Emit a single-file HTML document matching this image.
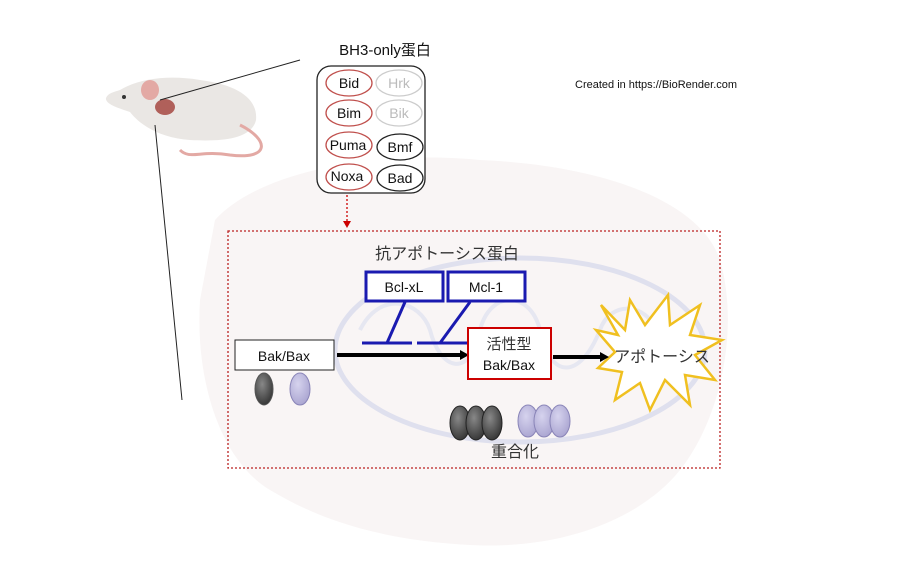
<!DOCTYPE html>
<html><head><meta charset="utf-8"><style>
body{margin:0;background:#fff}
svg{display:block;font-family:"Liberation Sans","Noto Sans CJK JP",sans-serif}
</style></head><body>
<svg width="900" height="577" viewBox="0 0 900 577">
<defs>
<radialGradient id="dk" cx="40%" cy="35%" r="70%"><stop offset="0" stop-color="#888"/><stop offset="1" stop-color="#333"/></radialGradient>
<radialGradient id="lv" cx="40%" cy="35%" r="70%"><stop offset="0" stop-color="#d6d3ee"/><stop offset="1" stop-color="#a9a4d0"/></radialGradient>
</defs>
<path d="M215,220 C260,170 380,150 480,160 C600,165 700,200 720,260 C740,330 720,420 680,470 C640,520 560,550 470,545 C380,540 320,520 270,490 C220,460 195,380 200,300 Z" fill="#f9f5f5"/>
<ellipse cx="520" cy="350" rx="185" ry="92" fill="none" stroke="#dfe0ee" stroke-width="5"/>
<path d="M360,330 C380,290 420,300 430,330 C440,370 470,380 480,330 C490,290 530,290 540,330 C550,380 580,380 600,330 C610,300 650,300 660,340" fill="none" stroke="#e6e7f1" stroke-width="4"/>
<!-- mouse -->
<path d="M120,90 C140,78 170,75 200,80 C240,85 258,100 256,120 C252,138 225,142 190,140 C160,138 140,125 130,112 C118,108 105,104 106,98 C108,93 114,92 120,90 Z" fill="#eae7e4"/>
<ellipse cx="150" cy="90" rx="9" ry="10" fill="#e3a9a4"/>
<ellipse cx="165" cy="107" rx="10" ry="8" fill="#b0605a"/>
<path d="M240,125 C270,140 270,160 230,155 C200,150 190,160 180,150" fill="none" stroke="#e3a9a4" stroke-width="3"/>
<circle cx="124" cy="97" r="2" fill="#333"/>
<line x1="300" y1="60" x2="160" y2="100" stroke="#222" stroke-width="1"/>
<line x1="155" y1="125" x2="182" y2="400" stroke="#222" stroke-width="1"/>
<text x="385" y="55" font-size="15" text-anchor="middle" fill="#111">BH3-only蛋白</text>
<rect x="317" y="66" width="108" height="127" rx="14" fill="#fff" stroke="#222" stroke-width="1.3"/>
<g font-size="14" text-anchor="middle" stroke-width="1.3" fill="none">
<ellipse cx="349" cy="83" rx="23" ry="13" stroke="#c0504d"/>
<ellipse cx="349" cy="113" rx="23" ry="13" stroke="#c0504d"/>
<ellipse cx="349" cy="145" rx="23" ry="13" stroke="#c0504d"/>
<ellipse cx="349" cy="177" rx="23" ry="13" stroke="#c0504d"/>
<ellipse cx="399" cy="83" rx="23" ry="13" stroke="#ccc"/>
<ellipse cx="399" cy="113" rx="23" ry="13" stroke="#ccc"/>
<ellipse cx="400" cy="147" rx="23" ry="13" stroke="#222"/>
<ellipse cx="400" cy="178" rx="23" ry="13" stroke="#222"/>
</g>
<g font-size="14" text-anchor="middle">
<text x="349" y="88" fill="#111">Bid</text>
<text x="349" y="118" fill="#111">Bim</text>
<text x="348" y="150" fill="#111">Puma</text>
<text x="347" y="181" fill="#111">Noxa</text>
<text x="399" y="88" fill="#bbb">Hrk</text>
<text x="399" y="118" fill="#bbb">Bik</text>
<text x="400" y="152" fill="#111">Bmf</text>
<text x="400" y="183" fill="#111">Bad</text>
</g>
<text x="575" y="88" font-size="11" fill="#111">Created in  https://BioRender.com</text>
<line x1="347" y1="195" x2="347" y2="222" stroke="#c00" stroke-width="1.3" stroke-dasharray="2,2"/>
<path d="M343,221 L351,221 L347,228 Z" fill="#c00"/>
<rect x="228" y="231" width="492" height="237" fill="none" stroke="#b22" stroke-width="1.3" stroke-dasharray="2,2"/>
<text x="447" y="259" font-size="16" text-anchor="middle" fill="#333">抗アポトーシス蛋白</text>
<rect x="366" y="272" width="77" height="29" fill="#fff" stroke="#1a1ab0" stroke-width="3"/>
<rect x="448" y="272" width="77" height="29" fill="#fff" stroke="#1a1ab0" stroke-width="3"/>
<text x="404" y="292" font-size="14" text-anchor="middle" fill="#111">Bcl-xL</text>
<text x="486" y="292" font-size="14" text-anchor="middle" fill="#111">Mcl-1</text>
<g stroke="#1a1ab0" stroke-width="3">
<line x1="405" y1="302" x2="387" y2="343"/><line x1="362" y1="343" x2="412" y2="343"/>
<line x1="470" y1="302" x2="440" y2="343"/><line x1="417" y1="343" x2="468" y2="343"/>
</g>
<rect x="235" y="340" width="99" height="30" fill="#fff" stroke="#222" stroke-width="1"/>
<text x="284" y="361" font-size="14" text-anchor="middle" fill="#111">Bak/Bax</text>
<line x1="337" y1="355" x2="462" y2="355" stroke="#000" stroke-width="4"/>
<path d="M460,350 L469,355 L460,360 Z" fill="#000"/>
<rect x="468" y="328" width="83" height="51" fill="#fff" stroke="#c00" stroke-width="2"/>
<text x="509" y="349" font-size="15" text-anchor="middle" fill="#333">活性型</text>
<text x="509" y="370" font-size="14" text-anchor="middle" fill="#111">Bak/Bax</text>
<path d="M601,305 L625,330 L630,300 L645,325 L668,295 L670,325 L700,305 L690,335 L722,340 L695,355 L715,380 L685,375 L690,405 L665,380 L650,410 L640,383 L615,400 L622,372 L598,368 L615,352 L596,330 L618,335 Z" fill="#fff" stroke="#f0c020" stroke-width="2.5"/>
<line x1="553" y1="357" x2="602" y2="357" stroke="#000" stroke-width="4"/>
<path d="M600,352 L609,357 L600,362 Z" fill="#000"/>
<text x="662" y="362" font-size="16" text-anchor="middle" fill="#333">アポトーシス</text>
<g stroke="#555" stroke-width="1">
<ellipse cx="264" cy="389" rx="9" ry="16" fill="url(#dk)"/>
<ellipse cx="300" cy="389" rx="10" ry="16" fill="url(#lv)" stroke="#8a85b8"/>
<ellipse cx="460" cy="423" rx="10" ry="17" fill="url(#dk)" stroke="#222"/>
<ellipse cx="476" cy="423" rx="10" ry="17" fill="url(#dk)" stroke="#222"/>
<ellipse cx="492" cy="423" rx="10" ry="17" fill="url(#dk)" stroke="#222"/>
<ellipse cx="528" cy="421" rx="10" ry="16" fill="url(#lv)" stroke="#8a85b8"/>
<ellipse cx="544" cy="421" rx="10" ry="16" fill="url(#lv)" stroke="#8a85b8"/>
<ellipse cx="560" cy="421" rx="10" ry="16" fill="url(#lv)" stroke="#8a85b8"/>
</g>
<text x="515" y="457" font-size="16" text-anchor="middle" fill="#333">重合化</text>
</svg>
</body></html>
